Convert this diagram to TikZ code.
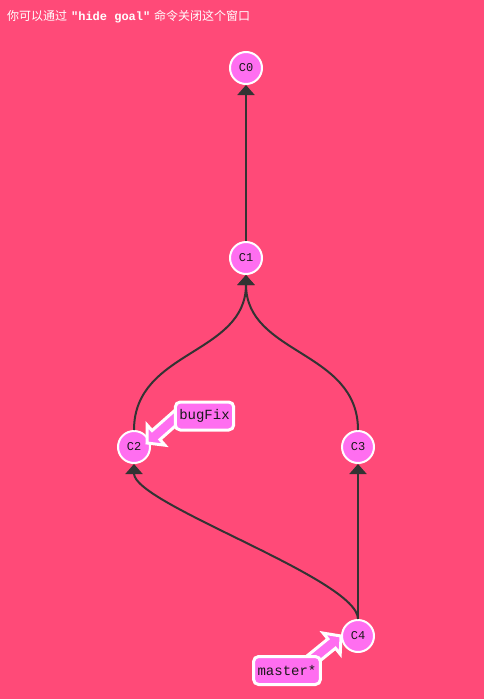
\documentclass[tikz,border=0pt]{standalone}
\usepackage{fontspec}
\setmonofont{Liberation Mono}
\newfontfamily\cjk{Noto Sans CJK SC}
\usetikzlibrary{arrows.meta, backgrounds, calc, positioning}
\definecolor{bgred}{RGB}{255,74,120}
\definecolor{commitpink}{RGB}{255,110,240}
\definecolor{edgegray}{RGB}{51,51,51}
\pgfdeclarelayer{front}
\pgfsetlayers{background,main,front}

\begin{document}
\begin{tikzpicture}[x=1pt,y=-1pt,
    commit/.style={circle, draw=white, line width=2pt, fill=commitpink, minimum size=32pt, inner sep=0pt, text=black!90, font=\fontsize{12}{12}\selectfont\ttfamily},
    branch/.style={rectangle, rounded corners=5pt, draw=white, line width=3pt, fill=commitpink, minimum height=28pt, inner xsep=4pt, text=black!90, font=\fontsize{14}{14}\selectfont\ttfamily},
    parent/.style={edgegray, line width=2pt, -{Triangle[length=10pt,width=17pt]}},
    pointer/.style={draw=white, fill=commitpink, line width=3pt, line join=miter}]
    \useasboundingbox (0,0) rectangle (484,699);
    \begin{pgfonlayer}{background}
        \fill[bgred] (0,0) rectangle (484,699);
    \end{pgfonlayer}

    \node[anchor=west, inner sep=0pt, text=white, font=\fontsize{12}{12}\selectfont] (hint) at (7,17)
        {{\cjk 你可以通过} {\ttfamily\bfseries "hide goal"} {\cjk 命令关闭这个窗口}};

    \node[commit] (c0) at (246,68) {C0};
    \node[commit] (c1) at (246,258) {C1};
    \node[commit] (c2) at (134,447) {C2};
    \node[commit] (c3) at (358,447) {C3};
    \node[commit] (c4) at (358,636) {C4};

    \begin{pgfonlayer}{front}
        \node[branch] (bugfix) at (204.5,416) {bugFix};
        \node[branch] (master) at (287,670.5) {master*};
    \end{pgfonlayer}

    \draw[parent] (c1.north) -- (c0.south);
    \draw[parent] (c2.north) .. controls +(0,-80) and +(0,80) .. (c1.south);
    \draw[parent] (c3.north) .. controls +(0,-80) and +(0,80) .. (c1.south);
    \draw[parent] (c4.north) .. controls +(0,-40) and +(0,40) .. (c2.south);
    \draw[parent] (c4.north) -- (c3.south);

    % branch pointers, over the commits and under the labels
    \coordinate (bugfixtip) at (147,443);
    \coordinate (bugfixtail) at ([shift={(10,-21)}]bugfix.south west);
    \coordinate (bugfixhead) at ($(bugfixtip)!12pt!(bugfixtail)$);
    \coordinate (mastertip) at (341,636);
    \coordinate (mastertail) at ([shift={(-19,12)}]master.north east);
    \coordinate (masterhead) at ($(mastertip)!12pt!(mastertail)$);
    \filldraw[pointer] ($(bugfixtail)!6pt!90:(bugfixtip)$) -- ($(bugfixhead)!6pt!90:(bugfixtip)$)
        -- ($(bugfixhead)!13.5pt!90:(bugfixtip)$) -- (bugfixtip) -- ($(bugfixhead)!13.5pt!-90:(bugfixtip)$)
        -- ($(bugfixhead)!6pt!-90:(bugfixtip)$) -- ($(bugfixtail)!6pt!-90:(bugfixtip)$) -- cycle;
    \filldraw[pointer] ($(mastertail)!6pt!90:(mastertip)$) -- ($(masterhead)!6pt!90:(mastertip)$)
        -- ($(masterhead)!13.5pt!90:(mastertip)$) -- (mastertip) -- ($(masterhead)!13.5pt!-90:(mastertip)$)
        -- ($(masterhead)!6pt!-90:(mastertip)$) -- ($(mastertail)!6pt!-90:(mastertip)$) -- cycle;
\end{tikzpicture}
\end{document}
